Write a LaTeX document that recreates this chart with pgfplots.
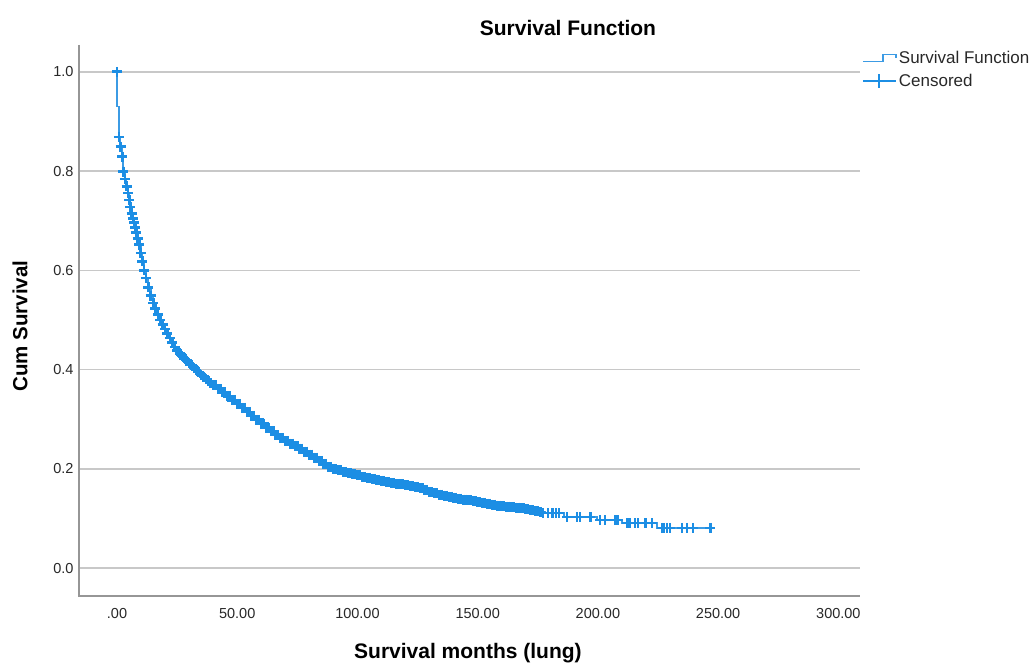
\documentclass[border=0pt]{standalone}
\usepackage{fontspec}
\setmainfont{Liberation Sans}
\usepackage{pgfplots}
\usepackage{pgfplotstable}
\pgfplotsset{compat=1.18}
\definecolor{markcol}{RGB}{28,142,228}
\definecolor{curvecol}{RGB}{60,155,228}
\definecolor{gridcol}{RGB}{200,200,200}
\definecolor{spinecol}{RGB}{150,150,150}
\definecolor{txtcol}{RGB}{40,40,40}

\pgfplotstableread{
t S
0 1.000
0.1 0.930
0.8 0.869
1.5 0.849
2.2 0.829
2.6 0.799
3.3 0.784
4.0 0.769
4.5 0.756
5.1 0.742
5.6 0.728
6.1 0.715
6.6 0.705
7.1 0.696
7.6 0.686
8.0 0.676
8.6 0.664
9.3 0.652
9.9 0.635
10.5 0.618
11.2 0.600
12.0 0.585
13.0 0.566
14.0 0.549
15.1 0.534
16.0 0.523
17.0 0.511
18.0 0.500
19.0 0.491
20.0 0.482
21.0 0.473
22.0 0.464
23.0 0.455
24.0 0.446
25.0 0.438
26 0.433
27 0.428
28 0.423
29 0.418
30 0.413
31 0.409
32 0.404
33 0.399
34 0.395
35 0.390
36 0.386
37 0.381
38 0.377
39 0.373
40 0.369
42 0.361
44 0.354
46 0.346
48 0.338
50 0.331
52 0.323
54 0.315
56 0.307
58 0.299
60 0.291
62 0.283
64 0.276
66 0.268
68 0.262
70 0.256
72 0.251
74 0.246
76 0.241
78 0.235
80 0.229
82 0.223
84 0.216
86 0.210
88 0.204
90 0.200
92 0.197
94 0.194
96 0.191
98 0.189
100 0.187
102 0.184
104 0.182
106 0.180
108 0.178
110 0.176
112 0.174
114 0.172
116 0.170
118 0.169
120 0.167
122 0.165
124 0.163
126 0.161
128 0.158
130 0.154
132 0.151
134 0.148
136 0.146
138 0.144
140 0.142
142 0.140
144 0.138
146 0.137
148 0.135
150 0.133
152 0.132
154 0.130
156 0.128
158 0.126
160 0.125
162 0.124
164 0.123
166 0.122
168 0.121
170 0.119
172 0.117
174 0.115
176 0.113
178 0.111
186 0.103
199.7 0.097
210 0.091
224.6 0.081
248 0.081
}\curvedata

% censored cases lying on the plateaus between the steps
\pgfplotstableread{
t S
41 0.369
43 0.361
45 0.354
47 0.346
49 0.338
51 0.331
53 0.323
55 0.315
57 0.307
59 0.299
61 0.291
63 0.283
65 0.276
67 0.268
69 0.262
71 0.256
73 0.251
75 0.246
77 0.241
79 0.235
81 0.229
83 0.223
85 0.216
87 0.210
89 0.204
91 0.200
93 0.197
95 0.194
97 0.191
99 0.189
101 0.187
103 0.184
105 0.182
107 0.180
109 0.178
111 0.176
113 0.174
115 0.172
117 0.170
119 0.169
121 0.167
123 0.165
125 0.163
127 0.161
129 0.158
131 0.154
133 0.151
135 0.148
137 0.146
139 0.144
141 0.142
143 0.140
145 0.138
147 0.137
149 0.135
151 0.133
153 0.132
155 0.130
157 0.128
159 0.126
161 0.125
163 0.124
165 0.123
167 0.122
169 0.121
171 0.119
173 0.117
175 0.115
}\midmarks

\pgfplotstableread{
t S
177.2 0.111
179.3 0.111
181.0 0.111
182.6 0.111
183.9 0.111
187.2 0.103
191.3 0.103
192.6 0.103
196.8 0.103
200.9 0.097
203.0 0.097
207.2 0.097
208.4 0.097
212.2 0.091
213.4 0.091
215.5 0.091
216.7 0.091
219.7 0.091
222.5 0.091
226.7 0.081
227.5 0.081
228.8 0.081
230.0 0.081
235.0 0.081
237.1 0.081
239.6 0.081
246.7 0.081
}\tailmarks

\begin{document}
\begin{tikzpicture}[x=1pt,y=1pt]
\begin{axis}[
  at={(79pt,68pt)}, anchor=south west,
  scale only axis, width=781pt, height=551pt,
  xmin=-15.8, xmax=309, ymin=-0.056, ymax=1.054,
  axis line style={draw=none},
  major tick length=0pt,
  xtick={0,50,100,150,200,250,300},
  xticklabels={.00,50.00,100.00,150.00,200.00,250.00,300.00},
  ytick={0,0.2,0.4,0.6,0.8,1.0},
  yticklabels={0.0,0.2,0.4,0.6,0.8,1.0},
  ymajorgrids,
  grid style={gridcol, line width=1.5pt},
  tick label style={font=\fontsize{14.5}{16}\selectfont, text=txtcol},
  xticklabel style={yshift=-9pt},
  yticklabel style={xshift=-2pt},
  title={Survival Function},
  title style={at={(axis description cs:0.626,1.020)}, anchor=center, font=\bfseries\fontsize{21}{24}\selectfont, text=black},
  xlabel={Survival months (lung)},
  xlabel style={at={(axis description cs:0.498,-0.1034)}, anchor=center, font=\bfseries\fontsize{21}{24}\selectfont, text=black},
  ylabel={Cum Survival},
  ylabel style={at={(axis description cs:-0.0755,0.49)}, anchor=center, font=\bfseries\fontsize{20.5}{24}\selectfont, text=black},
  legend style={at={(axis description cs:1.0026,0.9927)}, anchor=north west, draw=none, fill=none,
    font=\fontsize{17}{20}\selectfont, text=txtcol, inner sep=0pt, row sep=5pt,
    nodes={inner sep=2pt}},
  legend cell align=left,
  clip=false,
]
\addplot[const plot, curvecol, line width=1.7pt,
  legend image code/.code={\draw[curvecol, line width=1.7pt] (0pt,-3.5pt) -- (20pt,-3.5pt) -- (20pt,3.5pt) -- (33pt,3.5pt) -- (33pt,0pt);}]
  table[x=t,y=S]{\curvedata};
\addlegendentry{Survival Function}
\addplot[only marks, mark=+, markcol, line width=2.6pt, mark size=5pt,
  skip coords between index={1}{2}, restrict x to domain=0:177,
  legend image code/.code={\draw[markcol, line width=1.6pt] (0pt,0pt) -- (33pt,0pt); \draw[markcol, line width=1.8pt] (16pt,-7pt) -- (16pt,7pt);}]
  table[x=t,y=S]{\curvedata};
\addlegendentry{Censored}
\addplot[only marks, mark=+, markcol, line width=2.6pt, mark size=5pt, forget plot]
  table[x=t,y=S]{\midmarks};
\addplot[only marks, mark=+, markcol, line width=2.6pt, mark size=5pt, forget plot]
  table[x=t,y=S]{\tailmarks};
\draw[spinecol, line width=1.5pt] (rel axis cs:0,1) -- (rel axis cs:0,0) -- (rel axis cs:1,0);
\end{axis}
\pgfresetboundingbox
\path (0pt,0pt) rectangle (1033pt,664pt);
\end{tikzpicture}
\end{document}
